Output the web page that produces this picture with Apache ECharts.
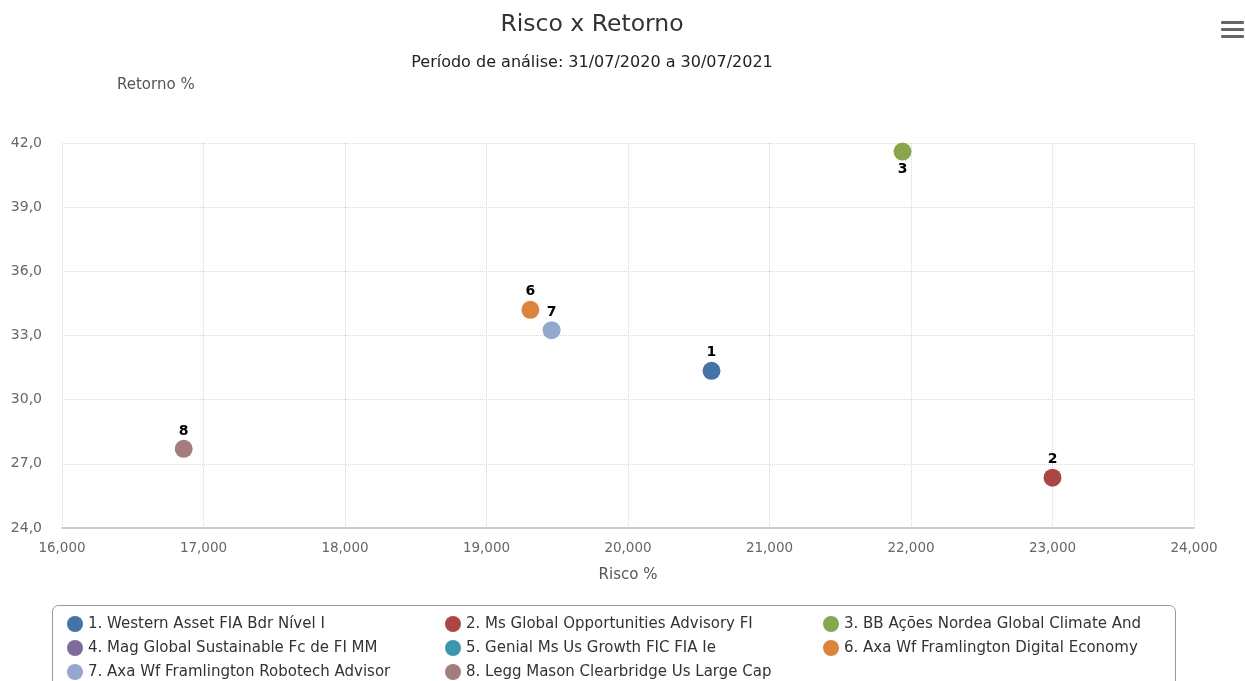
<!DOCTYPE html>
<html>
<head>
<meta charset="utf-8">
<script src="https://cdn.jsdelivr.net/npm/echarts@6/dist/echarts.min.js"></script>
<style>
  html, body { margin: 0; padding: 0; background: #fff; }
  #chart { width: 1245px; height: 681px; }
</style>
</head>
<body>
<div id="chart"></div>
<script>
// fundos (nome da legenda) e cores
var names = [
  '1. Western Asset FIA Bdr Nível I',
  '2. Ms Global Opportunities Advisory FI',
  '3. BB Ações Nordea Global Climate And',
  '4. Mag Global Sustainable Fc de FI MM',
  '5. Genial Ms Us Growth FIC FIA Ie',
  '6. Axa Wf Framlington Digital Economy',
  '7. Axa Wf Framlington Robotech Advisor',
  '8. Legg Mason Clearbridge Us Large Cap'
];
var labels = ['1', '2', '3', '4', '5', '6', '7', '8'];
var colors = ['#4572A7', '#AA4643', '#89A54E', '#80699B', '#3D96AE', '#DB843D', '#92A8CD', '#A47D7C'];
// risco %, retorno % (4 e 5 sem ponto)
var risco   = [20.59, 23.00, 21.94, null, null, 19.31, 19.46, 16.86];
var retorno = [31.35, 26.35, 41.60, null, null, 34.20, 33.25, 27.70];
var labelPos = ['top', 'top', 'bottom', 'top', 'top', 'top', 'top', 'top'];

var xTicks = { min: 16, max: 24, interval: 1 };
var yTicks = { min: 24, max: 42, interval: 3 };

var font = 'DejaVu Sans';

var series = names.map(function (n, i) {
  var d = risco[i] == null ? [] : [[risco[i], retorno[i]]];
  return {
    name: n,
    type: 'scatter',
    data: d,
    symbolSize: 18,
    itemStyle: { color: colors[i], opacity: 1 },
    label: {
      show: true,
      position: labelPos[i],
      distance: 2,
      formatter: labels[i],
      color: '#000',
      fontWeight: 'bold',
      fontSize: 14,
      fontFamily: font
    }
  };
});

// legenda: 3 colunas, uma legenda por item
var legends = names.map(function (n, i) {
  var col = i % 3, row = Math.floor(i / 3);
  return {
    orient: 'horizontal',
    left: [62, 440, 818][col],
    top: 611 + row * 24,
    itemWidth: 16,
    itemHeight: 16,
    icon: 'circle',
    selectedMode: false,
    textStyle: { fontSize: 15, color: '#333', fontFamily: font },
    data: [n]
  };
});

var chart = echarts.init(document.getElementById('chart'));
chart.setOption({
  animation: false,
  color: colors,
  title: [
    { text: 'Risco x Retorno', left: 587, top: 8, textAlign: 'center',
      textStyle: { fontSize: 23.5, fontWeight: 'normal', color: '#333', fontFamily: font } },
    { text: 'Período de análise: 31/07/2020 a 30/07/2021', left: 587, top: 50, textAlign: 'center',
      textStyle: { fontSize: 16, fontWeight: 'normal', color: '#222', fontFamily: font } }
  ],
  legend: legends,
  grid: { left: 62, right: 51, top: 143, bottom: 153, containLabel: false },
  xAxis: {
    type: 'value',
    min: xTicks.min, max: xTicks.max, interval: xTicks.interval,
    name: 'Risco %',
    nameLocation: 'middle',
    nameGap: 40,
    nameTextStyle: { fontSize: 15, color: '#555', fontFamily: font },
    axisLine: { show: true, lineStyle: { color: '#C0D0E0', width: 2 } },
    axisTick: { show: false },
    axisLabel: {
      color: '#666', fontSize: 13.5, fontFamily: font, margin: 13,
      formatter: function (v) { return v.toFixed(3).replace('.', ','); }
    },
    splitLine: { show: true, lineStyle: { color: '#d8d8d8', type: 'dotted', width: 1 } }
  },
  yAxis: {
    type: 'value',
    min: yTicks.min, max: yTicks.max, interval: yTicks.interval,
    name: 'Retorno %',
    nameLocation: 'end',
    nameGap: 50,
    nameTextStyle: { fontSize: 15, color: '#555', fontFamily: font, align: 'left', padding: [0, 0, 0, 55] },
    axisLine: { show: false },
    axisTick: { show: false },
    axisLabel: {
      color: '#666', fontSize: 14, fontFamily: font, margin: 20,
      formatter: function (v) { return v.toFixed(1).replace('.', ','); }
    },
    splitLine: { show: true, lineStyle: { color: '#d8d8d8', type: 'dotted', width: 1 } }
  },
  graphic: [
    { type: 'rect', shape: { x: 52.5, y: 605.5, width: 1123, height: 100, r: 6 },
      style: { fill: 'none', stroke: '#999', lineWidth: 1 }, z: -1 },
    { type: 'rect', shape: { x: 1221, y: 21, width: 23, height: 3, r: 1 }, style: { fill: '#666' } },
    { type: 'rect', shape: { x: 1221, y: 28, width: 23, height: 3, r: 1 }, style: { fill: '#666' } },
    { type: 'rect', shape: { x: 1221, y: 35, width: 23, height: 3, r: 1 }, style: { fill: '#666' } }
  ],
  series: series
});
</script>
</body>
</html>
